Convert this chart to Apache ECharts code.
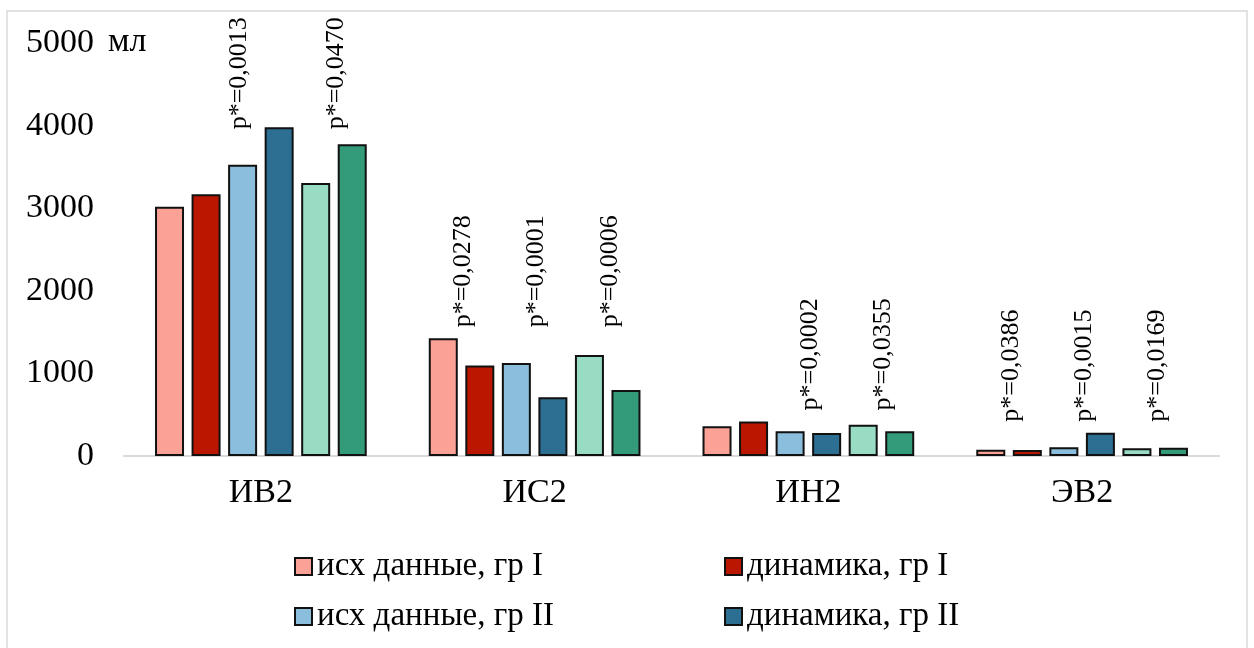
<!DOCTYPE html>
<html>
<head>
<meta charset="utf-8">
<script src="https://cdn.jsdelivr.net/npm/echarts@6/dist/echarts.min.js"></script>
<style>
  html, body { margin: 0; padding: 0; background: #fff; }
  #chart { width: 1254px; height: 648px; }
</style>
</head>
<body>
<div id="chart"></div>
<script>
// ---- data ----
const categories = ['ИВ2', 'ИС2', 'ИН2', 'ЭВ2'];
const seriesNames = ['исх данные, гр I', 'динамика, гр I', 'исх данные, гр II', 'динамика, гр II', 'исх данные, гр III', 'динамика, гр III'];
const ishI   = [3020, 1426, 362, 77];
const dinI   = [3172, 1097, 418, 73];
const ishII  = [3531, 1127, 299, 105];
const dinII  = [3984, 711, 279, 283];
const ishIII = [3309, 1224, 380, 93];
const dinIII = [3778, 800, 299, 101];
const yTicks = [0, 1000, 2000, 3000, 4000, 5000];
const pCategory = [0, 0, 1, 1, 1, 2, 2, 3, 3, 3];
const pPair     = [1, 2, 0, 1, 2, 1, 2, 0, 1, 2];
const pTexts = ['p*=0,0013', 'p*=0,0470', 'p*=0,0278', 'p*=0,0001', 'p*=0,0006',
                'p*=0,0002', 'p*=0,0355', 'p*=0,0386', 'p*=0,0015', 'p*=0,0169'];

// ---- style ----
const FONT = '"Liberation Serif", "Times New Roman", serif';
const colors = ['#FCA195', '#BA1600', '#8BBEDD', '#2D6F93', '#98DCC4', '#339B79'];
const BAR_W = 29;
const BAR_GAP = 0.26;
const pitch = BAR_W * (1 + BAR_GAP);

const allSeries = [ishI, dinI, ishII, dinII, ishIII, dinIII];
const catMax = categories.map((c, i) => Math.max(...allSeries.map(s => s[i])));

const chart = echarts.init(document.getElementById('chart'), null, { renderer: 'canvas' });

const barSeries = allSeries.map((vals, i) => ({
  name: seriesNames[i],
  type: 'bar',
  data: vals,
  barWidth: BAR_W,
  barGap: (BAR_GAP * 100) + '%',
  itemStyle: { color: colors[i], borderColor: '#111', borderWidth: 2 },
  emphasis: { disabled: true }
}));

const pData = pTexts.map((t, i) => [pCategory[i], catMax[pCategory[i]], pPair[i]]);

const labelSeries = {
  type: 'custom',
  silent: true,
  z: 5,
  data: pData,
  encode: { x: 0, y: 1 },
  renderItem: function (params, api) {
    const idx = params.dataIndex;
    const c = api.coord([api.value(0), api.value(1)]);
    const pair = api.value(2);
    let dx = (2 * pair - 2) * pitch + 2;
    let gap = 11;
    if (api.value(0) === 0) {           // tall first group: labels sit at the bar tops
      gap = -2;
      if (pair === 1) dx -= 24;
    }
    return {
      type: 'text',
      x: c[0] + dx,
      y: c[1] - gap,
      rotation: Math.PI / 2,
      style: {
        text: pTexts[idx],
        font: '26px ' + FONT,
        fill: '#000',
        align: 'left',
        verticalAlign: 'middle'
      }
    };
  }
};

const legendCommon = {
  orient: 'vertical',
  padding: 0,
  itemWidth: 17, itemHeight: 17, itemGap: 17,
  icon: 'rect',
  textStyle: { fontFamily: FONT, fontSize: 33, color: '#000', lineHeight: 33 },
  selectedMode: false
};

const option = {
  backgroundColor: '#fff',
  animation: false,
  grid: { left: 124, right: 35, top: 43.5, bottom: 192, containLabel: false },
  legend: [
    Object.assign({}, legendCommon, { left: 294, top: 550, data: [seriesNames[0], seriesNames[2]] }),
    Object.assign({}, legendCommon, { left: 724, top: 550, data: [seriesNames[1], seriesNames[3]] })
  ],
  xAxis: {
    type: 'category',
    data: categories,
    axisLine: { lineStyle: { color: '#D9D9D9', width: 2 } },
    axisTick: { show: false },
    axisLabel: { fontFamily: FONT, fontSize: 34, color: '#000', margin: 20 }
  },
  yAxis: {
    type: 'value',
    min: yTicks[0],
    max: yTicks[yTicks.length - 1],
    interval: yTicks[1] - yTicks[0],
    axisLine: { show: false },
    axisTick: { show: false },
    splitLine: { show: false },
    axisLabel: {
      fontFamily: FONT, fontSize: 34, color: '#000', margin: 30,
      formatter: function (v) { return String(v); }
    }
  },
  graphic: [
    {
      type: 'rect', silent: true, z: -10,
      shape: { x: 7, y: 11, width: 1240, height: 700 },
      style: { fill: 'none', stroke: '#D9D9D9', lineWidth: 1.5 }
    },
    {
      type: 'text', silent: true,
      x: 108, y: 42,
      style: { text: 'мл', font: '34px ' + FONT, fill: '#000', verticalAlign: 'middle' }
    }
  ],
  series: barSeries.concat([labelSeries])
};

chart.setOption(option);
</script>
</body>
</html>
